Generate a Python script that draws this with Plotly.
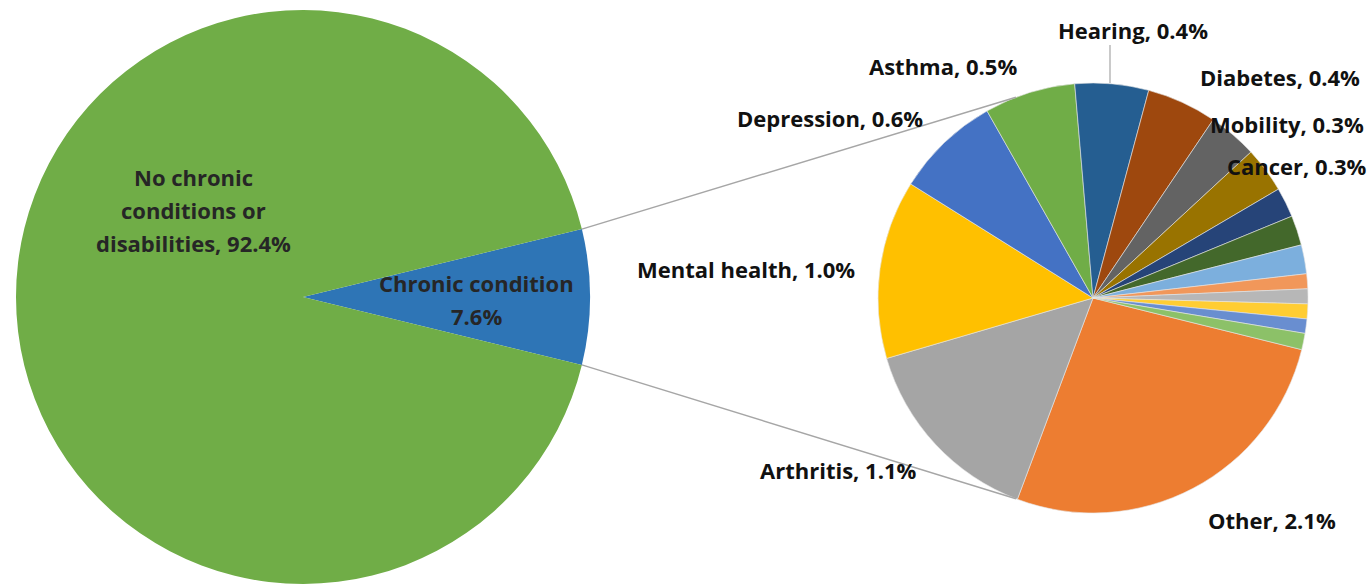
import math
import plotly.graph_objects as go

W, H = 1372, 584

# ---------------- data ----------------
main_labels = ["Chronic condition", "No chronic conditions or disabilities"]
main_values = [7.6, 92.4]
main_text = ["7.6%", "92.4%"]
main_colors = ["#2E75B6", "#70AD47"]

sub_labels = ["Other", "Arthritis", "Mental health", "Depression", "Asthma",
              "Hearing", "Diabetes", "Mobility", "Cancer",
              "Condition 10", "Condition 11", "Condition 12", "Condition 13",
              "Condition 14", "Condition 15", "Condition 16", "Condition 17"]
sub_values = [2.04, 1.12, 1.02, 0.60, 0.52, 0.42, 0.40, 0.28, 0.26,
              0.17, 0.17, 0.165, 0.085, 0.085, 0.085, 0.082, 0.093]
sub_text = ["2.1%", "1.1%", "1.0%", "0.6%", "0.5%", "0.4%", "0.4%", "0.3%", "0.3%",
            "", "", "", "", "", "", "", ""]
sub_colors = ["#ED7D31", "#A5A5A5", "#FFC000", "#4472C4", "#70AD47",
              "#255E91", "#9E480E", "#636363", "#997300",
              "#264478", "#43682B", "#7CAFDD", "#F1975A", "#B7B7B7",
              "#FFCD33", "#698ED0", "#8CC168"]

# ---------------- geometry (pixels) ----------------
L_CX, L_CY, L_R = 303, 297, 287
R_CX, R_CY, R_R = 1093, 298, 215
SUB_START_DEG = -13.9          # math angle where the first sub slice starts
CONNECT_DEG = 111.0            # math angle of connector ends on the sub pie


def dom(cx, cy, r):
    return dict(x=[(cx - r) / W, (cx + r) / W],
                y=[max(0.0, 1 - (cy + r) / H), min(1.0, 1 - (cy - r) / H)])


def px(x, y):
    return x / W, 1 - y / H


font_family = "'Open Sans', 'Noto Sans', sans-serif"
FS = 22

fig = go.Figure()

chronic_half = main_values[0] / sum(main_values) * 360 / 2
fig.add_trace(go.Pie(
    labels=main_labels, values=main_values, sort=False, direction="clockwise",
    rotation=90 - chronic_half, domain=dom(L_CX, L_CY, L_R),
    marker=dict(colors=main_colors, line=dict(width=0)),
    textinfo="none", hoverinfo="skip", showlegend=False))

fig.add_trace(go.Pie(
    labels=sub_labels, values=sub_values, sort=False, direction="clockwise",
    rotation=90 - SUB_START_DEG, domain=dom(R_CX, R_CY, R_R),
    marker=dict(colors=sub_colors, line=dict(width=0.6, color="#E6E6E6")),
    textinfo="none", hoverinfo="skip", showlegend=False))

# connector lines (pie-of-pie)
shapes = []
for sgn in (1, -1):
    a0 = math.radians(sgn * chronic_half)
    a1 = math.radians(sgn * CONNECT_DEG)
    x0, y0 = L_CX + L_R * math.cos(a0), L_CY - L_R * math.sin(a0)
    x1, y1 = R_CX + R_R * math.cos(a1), R_CY - R_R * math.sin(a1)
    p0, p1 = px(x0, y0), px(x1, y1)
    shapes.append(dict(type="line", xref="paper", yref="paper",
                       x0=p0[0], y0=p0[1], x1=p1[0], y1=p1[1],
                       line=dict(color="#A6A6A6", width=1.5)))

# Hearing leader line
hp0, hp1 = px(1110, 45), px(1110, 83)
shapes.append(dict(type="line", xref="paper", yref="paper",
                   x0=hp0[0], y0=hp0[1], x1=hp1[0], y1=hp1[1],
                   line=dict(color="#A6A6A6", width=1.2)))

annotations = []


def add_text(text, x, y, color="#111111"):
    p = px(x, y)
    annotations.append(dict(text="<b>%s</b>" % text, x=p[0], y=p[1],
                            xref="paper", yref="paper", showarrow=False,
                            xanchor="center", yanchor="middle",
                            font=dict(family=font_family, size=FS, color=color)))


# main pie labels
inner = "#262626"
add_text("No chronic", 193, 177, inner)
add_text("conditions or", 193, 210, inner)
add_text("disabilities, " + main_text[1], 193, 243, inner)
add_text(main_labels[0], 476, 283, inner)
add_text(main_text[0], 476, 316, inner)

# sub pie labels (position per labelled slice)
sub_label_pos = {
    "Other": (1272, 520), "Arthritis": (838, 470), "Mental health": (746, 269),
    "Depression": (830, 118), "Asthma": (943, 66), "Hearing": (1133, 30),
    "Diabetes": (1280, 77), "Mobility": (1287, 124), "Cancer": (1296, 166),
}
for lab, t in zip(sub_labels, sub_text):
    if lab in sub_label_pos:
        x, y = sub_label_pos[lab]
        add_text("%s, %s" % (lab, t), x, y)

fig.update_layout(
    width=W, height=H, margin=dict(l=0, r=0, t=0, b=0),
    paper_bgcolor="white", plot_bgcolor="white",
    shapes=shapes, annotations=annotations, showlegend=False)

fig.write_html("out.html", config={"displayModeBar": False},
               post_script="document.body.style.margin='0';document.body.style.overflow='hidden';")
